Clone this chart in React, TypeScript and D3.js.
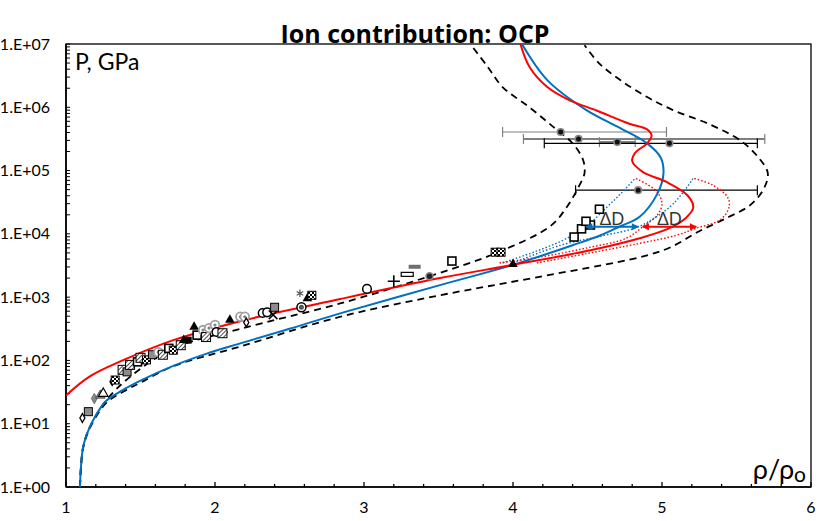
import * as d3 from "d3";

// ---- data (rho/rho0, P in GPa) ----
const redSolid: [number, number][] = [
  [1.0, 28], [1.16, 56], [1.38, 100], [1.72, 209], [2.17, 417], [2.84, 933],
  [3.51, 2000], [4.0, 3240], [4.52, 5500], [4.85, 8510], [5.05, 12300],
  [5.16, 17800], [5.21, 26300], [5.17, 40700], [5.03, 66100], [4.87, 95500],
  [4.8, 141000], [4.82, 191000], [4.9, 269000], [4.93, 355000], [4.9, 447000],
  [4.78, 550000], [4.56, 891000], [4.38, 1290000], [4.23, 2090000],
  [4.11, 4370000], [4.05, 1e7],
];
const blueSolid: [number, number][] = [
  [1.094, 1], [1.1, 2], [1.116, 4.4], [1.16, 8.9], [1.21, 14.8], [1.27, 23],
  [1.38, 34], [1.5, 48], [1.72, 82], [1.94, 127], [2.17, 186], [2.5, 316],
  [2.88, 590], [3.51, 1550], [4.0, 3240], [4.4, 6610], [4.58, 9330],
  [4.72, 13200], [4.85, 18600], [4.97, 43600], [5.01, 91200], [4.99, 162000],
  [4.9, 269000], [4.72, 468000], [4.49, 912000], [4.23, 2690000], [4.06, 1e7],
];
const dashUpper: [number, number][] = [
  [1.094, 1], [1.1, 2], [1.116, 4.4], [1.16, 8.9], [1.27, 23.4], [1.43, 55],
  [1.72, 155], [2.17, 316], [2.84, 794], [3.44, 2140], [3.89, 5010],
  [4.25, 13200], [4.36, 26300], [4.44, 55000], [4.48, 91200], [4.47, 148000],
  [4.4, 269000], [4.27, 490000], [4.11, 1000000], [3.93, 2090000],
  [3.83, 4370000], [3.72, 9550000],
];
const dashLower: [number, number][] = [
  [1.094, 1], [1.1, 2], [1.116, 4.2], [1.16, 8.5], [1.27, 21.4], [1.38, 31.6],
  [1.5, 44.7], [1.72, 81], [2.17, 166], [2.84, 490], [3.51, 1070],
  [4.15, 2040], [4.85, 4270], [5.05, 6030], [5.25, 11000], [5.45, 18600],
  [5.59, 28200], [5.68, 50100], [5.71, 91200], [5.65, 158000], [5.53, 295000],
  [5.33, 525000], [5.07, 912000], [4.9, 1450000], [4.72, 2690000],
  [4.58, 4900000], [4.48, 9550000],
];
const blueDotL: [number, number][] = [
  [3.93, 3470], [4.15, 5250], [4.32, 7590], [4.4, 9550], [4.49, 12900],
  [4.62, 25100], [4.73, 44700], [4.82, 75900],
];
const redDotL: [number, number][] = [
  [3.91, 3470], [4.2, 4370], [4.5, 6030], [4.76, 8510], [4.87, 12900],
  [4.97, 20000], [5.0, 30200], [4.96, 47900], [4.82, 75900],
];
const blueDotR: [number, number][] = [
  [3.98, 3310], [4.32, 6610], [4.6, 9330], [4.84, 12900], [5.05, 26300],
  [5.14, 44700], [5.21, 75900],
];
const redDotR: [number, number][] = [
  [4.16, 3470], [4.5, 4900], [4.85, 7080], [5.1, 9550], [5.23, 12300],
  [5.39, 16600], [5.45, 26300], [5.44, 38000], [5.34, 58900], [5.21, 75900],
];

// error-bar points
const ebX = [4.32, 4.44, 4.7, 5.05, 4.84];
const ebP = [407000, 316000, 282000, 269000, 49000];
const ebLo = [3.93, 4.07, 4.58, 4.21, 4.42];
const ebHi = [5.03, 5.69, 4.82, 5.64, 5.64];
const ebColor = ["#7f7f7f", "#7f7f7f", "#7f7f7f", "#000", "#000"];
const ebWidth = [1.2, 2, 2, 1.2, 1.2];

// ΔD arrows
const arrowP = [12900, 12900];
const arrowFrom = [4.49, 4.87];
const arrowTo = [4.84, 5.23];
const arrowColor = ["#0070C0", "#FF0000"];

// experimental points
const markX = [
  1.11, 1.15, 1.19, 1.23, 1.25, 1.31, 1.33, 1.38, 1.41, 1.43, 1.48, 1.5, 1.54,
  1.58, 1.62, 1.65, 1.69, 1.72, 1.77, 1.79, 1.82, 1.86, 1.88, 1.92, 1.94, 1.96,
  2.0, 2.01, 2.05, 2.1, 2.17, 2.2, 2.21, 2.32, 2.35, 2.39, 2.4, 2.57, 2.58,
  2.62, 2.65, 3.02, 3.2, 3.29, 3.34, 3.44, 3.59, 3.88, 3.92, 4.0, 4.41, 4.46,
  4.52, 4.49, 4.58,
];
const markP = [
  12.3, 15.5, 25, 28, 30, 46, 49, 71, 66, 85, 95, 110, 102, 123, 135, 123,
  155, 145, 174, 209, 209, 339, 251, 302, 234, 324, 363, 282, 269, 437, 490,
  490, 398, 562, 575, 525, 692, 1150, 692, 955, 1070, 1350, 1780, 2290, 3020,
  2140, 3720, 5130, 5130, 3310, 8910, 12000, 13800, 15800, 24500,
];
const markShape = [
  "diamondOpen", "squareGray", "diamondGray", "triangleGray", "triangleOpen",
  "diamond", "checker", "hatch", "squareGray", "hatch", "squareOpen", "hatch",
  "checker", "squareGray", "ring", "hatch", "squareOpen", "checker", "hatch",
  "triangle", "square", "triangle", "squareOpen", "ring", "hatch", "ring",
  "ring", "circleOpen", "hatch", "triangle", "ring", "ring", "diamondOpen",
  "circleOpen", "circleOpen", "times", "squareGray", "asterisk", "circleDot",
  "triangle", "checker", "circleOpen", "plus", "dashOpen", "dashGray",
  "dotGray", "squareOpen", "checker", "checker", "triangle", "squareOpen",
  "squareOpen", "squareOpen", "squareOpen", "squareOpen",
];

const yTicks = [1, 10, 100, 1e3, 1e4, 1e5, 1e6, 1e7];
const yTickLabels = ["1.E+00", "1.E+01", "1.E+02", "1.E+03", "1.E+04", "1.E+05", "1.E+06", "1.E+07"];
const xTicks = [1, 2, 3, 4, 5, 6];

const FONT = "Lato, 'Open Sans', sans-serif";

function Marker({ shape, cx, cy }: { shape: string; cx: number; cy: number }) {
  const t = `translate(${cx},${cy})`;
  const sym = (type: d3.SymbolType, size: number) => d3.symbol(type, size)() || "";
  switch (shape) {
    case "diamondOpen":
      return <path transform={t} d={sym(d3.symbolDiamond, 22)} fill="#fff" stroke="#000" strokeWidth={1.3} />;
    case "diamond":
      return <path transform={t} d={sym(d3.symbolDiamond, 30)} fill="#000" />;
    case "diamondGray":
      return <path transform={t} d={sym(d3.symbolDiamond, 30)} fill="#8a8a8a" stroke="#555" strokeWidth={0.8} />;
    case "squareOpen":
      return <rect x={cx - 4} y={cy - 4} width={8} height={8} fill="#fff" stroke="#000" strokeWidth={1.6} />;
    case "square":
      return <rect x={cx - 3.5} y={cy - 3.5} width={7} height={7} fill="#000" />;
    case "squareGray":
      return <rect x={cx - 4} y={cy - 4} width={8} height={8} fill="#8c8c8c" stroke="#000" strokeWidth={1} />;
    case "hatch":
      return <rect x={cx - 4.5} y={cy - 4.5} width={9} height={9} fill="url(#hatch)" stroke="#000" strokeWidth={1} />;
    case "checker":
      return <rect x={cx - 4} y={cy - 4} width={8} height={8} fill="url(#checker)" stroke="#000" strokeWidth={1} />;
    case "triangle":
      return <path transform={t} d={sym(d3.symbolTriangle, 40)} fill="#000" />;
    case "triangleOpen":
      return <path transform={t} d={sym(d3.symbolTriangle, 40)} fill="#fff" stroke="#000" strokeWidth={1.2} />;
    case "triangleGray":
      return <path transform={t} d={sym(d3.symbolTriangle, 40)} fill="#8c8c8c" stroke="#444" strokeWidth={0.8} />;
    case "ring":
      return (
        <g>
          <circle cx={cx} cy={cy} r={4.3} fill="#fff" stroke="#a0a0a0" strokeWidth={1.8} />
          <circle cx={cx} cy={cy} r={1.6} fill="#808080" />
        </g>
      );
    case "circleOpen":
      return <circle cx={cx} cy={cy} r={4.3} fill="#fff" stroke="#000" strokeWidth={1.5} />;
    case "circleDot":
      return (
        <g>
          <circle cx={cx} cy={cy} r={4.5} fill="#fff" stroke="#000" strokeWidth={1.5} />
          <circle cx={cx} cy={cy} r={2.5} fill="#555" />
        </g>
      );
    case "dotGray":
      return <circle cx={cx} cy={cy} r={3.5} fill="#222" stroke="#888" strokeWidth={1.5} />;
    case "times":
      return <path transform={t} d={sym(d3.symbolTimes ?? d3.symbolCross, 50)} fill="none" stroke="#000" strokeWidth={1.5} />;
    case "plus":
      return <path transform={t} d={sym(d3.symbolPlus ?? d3.symbolCross, 50)} fill="none" stroke="#000" strokeWidth={1.6} />;
    case "asterisk":
      return <path transform={t} d={sym(d3.symbolAsterisk ?? d3.symbolCross, 40)} fill="none" stroke="#555" strokeWidth={1.2} />;
    case "dashOpen":
      return <rect x={cx - 6} y={cy - 2} width={12} height={4} fill="#fff" stroke="#000" strokeWidth={1.2} />;
    case "dashGray":
      return <rect x={cx - 6} y={cy - 2} width={12} height={4} fill="#6e6e6e" />;
    default:
      return null;
  }
}

export default function App() {
  const x = d3.scaleLinear().domain([1, 6]).range([66, 811]);
  const y = d3.scaleLog().domain([1, 1e7]).range([487, 44]);
  const line = d3
    .line<[number, number]>()
    .x((d) => x(d[0]))
    .y((d) => y(d[1]))
    .curve(d3.curveCatmullRom.alpha(0.5));

  const [x0, x1] = x.range();
  const [y0, y1] = y.range();
  const xMinor = x.ticks(25);
  const yMinor = y.ticks();

  return (
    <svg
      width={830}
      height={521}
      viewBox="0 0 830 521"
      style={{ position: "absolute", left: 0, top: 0, background: "#fff" }}
      fontFamily={FONT}
    >
      <defs>
        <clipPath id="plot">
          <rect x={x0} y={y1} width={x1 - x0} height={y0 - y1} />
        </clipPath>
        <pattern id="hatch" width={3} height={3} patternUnits="userSpaceOnUse" patternTransform="rotate(45)">
          <rect width={3} height={3} fill="#fff" />
          <line x1={0} y1={0} x2={0} y2={3} stroke="#000" strokeWidth={1.4} />
        </pattern>
        <pattern id="checker" width={4} height={4} patternUnits="userSpaceOnUse">
          <rect width={4} height={4} fill="#fff" />
          <rect width={2} height={2} fill="#000" />
          <rect x={2} y={2} width={2} height={2} fill="#000" />
        </pattern>
        {arrowColor.map((c, i) => (
          <marker
            key={i}
            id={`arr${i}`}
            viewBox="0 0 10 10"
            refX={9}
            refY={5}
            markerWidth={9}
            markerHeight={7}
            markerUnits="userSpaceOnUse"
            orient="auto-start-reverse"
          >
            <path d="M0,0L10,5L0,10Z" fill={c} />
          </marker>
        ))}
      </defs>

      <rect x={0} y={0} width={830} height={521} fill="#fff" />

      {/* plot frame */}
      <rect x={x0} y={y1} width={x1 - x0} height={y0 - y1} fill="none" stroke="#000" strokeWidth={1.3} />

      {/* y ticks */}
      {yMinor.map((v, i) => (
        <line key={i} x1={x0} x2={x0 + 4} y1={y(v)} y2={y(v)} stroke="#000" strokeWidth={1} />
      ))}
      {yTicks.map((v, i) => (
        <text key={i} x={50} y={y(v)} dy="0.35em" textAnchor="end" fontSize={16} fill="#000">
          {yTickLabels[i]}
        </text>
      ))}
      {/* x ticks */}
      {xMinor.map((v, i) => (
        <line
          key={i}
          x1={x(v)}
          x2={x(v)}
          y1={y0}
          y2={y0 - (Math.abs(v - Math.round(v)) < 1e-6 ? 5 : 3)}
          stroke="#000"
          strokeWidth={1.3}
        />
      ))}
      {xTicks.map((v, i) => (
        <text key={i} x={x(v)} y={513} textAnchor="middle" fontSize={16} fill="#000">
          {v}
        </text>
      ))}
      <line x1={x0} x2={x1} y1={y0} y2={y0} stroke="#000" strokeWidth={1.6} />
      <line x1={x0} x2={x0} y1={y0} y2={y1} stroke="#000" strokeWidth={1.6} />

      <g clipPath="url(#plot)">
        {/* error bars */}
        {ebX.map((v, i) => (
          <g key={i} stroke={ebColor[i]} strokeWidth={ebWidth[i]}>
            <line x1={x(ebLo[i])} x2={x(ebHi[i])} y1={y(ebP[i])} y2={y(ebP[i])} />
            <line x1={x(ebLo[i])} x2={x(ebLo[i])} y1={y(ebP[i]) - 5} y2={y(ebP[i]) + 5} strokeWidth={1.2} />
            <line x1={x(ebHi[i])} x2={x(ebHi[i])} y1={y(ebP[i]) - 5} y2={y(ebP[i]) + 5} strokeWidth={1.2} />
          </g>
        ))}

        {/* model curves */}
        <path d={line(dashUpper) || ""} fill="none" stroke="#000" strokeWidth={1.8} strokeDasharray="7,5" />
        <path d={line(dashLower) || ""} fill="none" stroke="#000" strokeWidth={1.8} strokeDasharray="7,5" />
        <path d={line(blueDotL) || ""} fill="none" stroke="#0070C0" strokeWidth={1.4} strokeDasharray="1.5,2" />
        <path d={line(blueDotR) || ""} fill="none" stroke="#0070C0" strokeWidth={1.4} strokeDasharray="1.5,2" />
        <path d={line(redDotL) || ""} fill="none" stroke="#FF0000" strokeWidth={1.4} strokeDasharray="1.5,2" />
        <path d={line(redDotR) || ""} fill="none" stroke="#FF0000" strokeWidth={1.4} strokeDasharray="1.5,2" />
        <path d={line(blueSolid) || ""} fill="none" stroke="#0070C0" strokeWidth={2} />
        <path d={line(redSolid) || ""} fill="none" stroke="#FF0000" strokeWidth={2} />

        {/* experimental markers */}
        {markX.map((v, i) => (
          <Marker key={i} shape={markShape[i]} cx={x(v)} cy={y(markP[i])} />
        ))}

        {/* error bar centres */}
        {ebX.map((v, i) => (
          <circle key={i} cx={x(v)} cy={y(ebP[i])} r={3.3} fill="#111" stroke="#888" strokeWidth={1.6} />
        ))}

        {/* ΔD arrows */}
        {arrowP.map((p, i) => (
          <g key={i}>
            <line
              x1={x(arrowFrom[i])}
              x2={x(arrowTo[i])}
              y1={y(p)}
              y2={y(p)}
              stroke={arrowColor[i]}
              strokeWidth={2}
              markerStart={`url(#arr${i})`}
              markerEnd={`url(#arr${i})`}
            />
            <text
              x={(x(arrowFrom[i]) + x(arrowTo[i])) / 2}
              y={y(p) - 2}
              textAnchor="middle"
              fontSize={17}
              fill="#333"
            >
              ΔD
            </text>
          </g>
        ))}
      </g>

      {/* labels */}
      <text x={75} y={70} fontSize={23} fill="#000">P, GPa</text>
      <text x={806} y={479} textAnchor="end" fontSize={27} fill="#000">
        ρ/ρ<tspan fontSize={21} dy={3}>o</tspan>
      </text>
      <text
        x={415}
        y={43}
        textAnchor="middle"
        fontSize={25}
        fontWeight="bold"
        fill="#000"
        fontFamily="'Open Sans', Lato, sans-serif"
      >
        Ion contribution: OCP
      </text>
    </svg>
  );
}
